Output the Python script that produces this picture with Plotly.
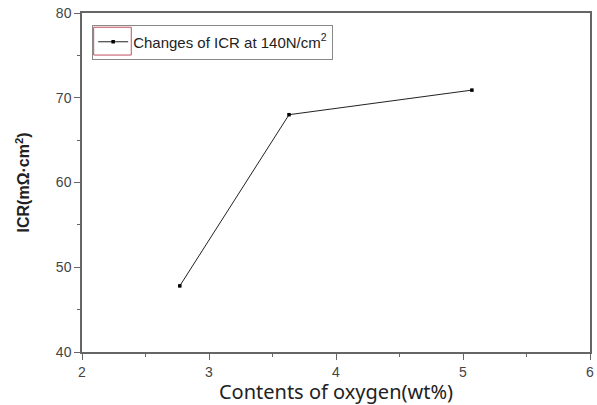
import plotly.graph_objects as go

oxygen = [2.77, 3.63, 5.07]
icr = [47.8, 68, 70.9]
x_ticks = [2, 3, 4, 5, 6]
y_ticks = [40, 50, 60, 70, 80]

fig = go.Figure()
fig.add_trace(go.Scatter(
    x=oxygen, y=icr, mode="lines+markers",
    name="Changes of ICR at 140N/cm<sup>2</sup>",
    line=dict(color="#222", width=1),
    marker=dict(symbol="square", size=3.5, color="black"),
))

base = dict(
    showline=True, linecolor="#666", linewidth=1.5, mirror=True,
    ticks="outside", ticklen=6, tickcolor="#666", tickwidth=1,
    showgrid=False, zeroline=False,
    tickfont=dict(family="Liberation Sans, Arial", size=14, color="#444"),
)

fig.update_xaxes(
    range=[2, 6], tickvals=x_ticks, **base,
    minor=dict(ticks="outside", ticklen=3, tickcolor="#666", dtick=0.5),
    title=dict(text="Contents of oxygen(wt%)", font=dict(family="Noto Sans, Open Sans", size=20, color="#222"), standoff=0),
)
fig.update_yaxes(
    range=[40, 80], tickvals=y_ticks, **base,
    minor=dict(ticks="outside", ticklen=3, tickcolor="#666", dtick=5),
    title=dict(text="<b>ICR(mΩ·cm<sup>2</sup>)</b>", font=dict(family="Liberation Sans, Arial", size=16, color="#222"), standoff=22),
)

fig.update_layout(
    width=597, height=405,
    margin=dict(l=82, r=3, t=13, b=53),
    paper_bgcolor="white", plot_bgcolor="white",
    showlegend=True,
    legend=dict(
        x=0.02, y=0.966, xanchor="left", yanchor="top",
        bordercolor="#888", borderwidth=1, bgcolor="rgba(0,0,0,0)",
        font=dict(family="Liberation Sans, Arial", size=15, color="#222"),
        itemwidth=30,
    ),
    shapes=[dict(
        type="rect", xref="paper", yref="paper",
        x0=0.023, x1=0.097, y0=0.876, y1=0.958,
        line=dict(color="#c05060", width=1), fillcolor="rgba(0,0,0,0)",
    )],
)

fig.write_html("out.html")
